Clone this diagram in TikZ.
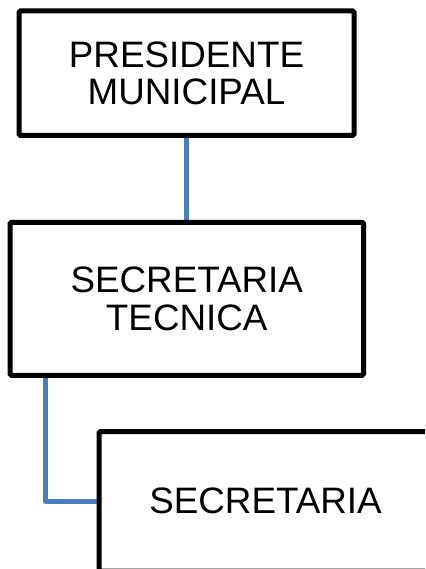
\documentclass[tikz,border=0pt]{standalone}
\usepackage{fontspec}
\setmainfont{Liberation Sans}
\usetikzlibrary{backgrounds}
\definecolor{connblue}{RGB}{74,126,187}
\begin{document}
\begin{tikzpicture}[x=1pt,y=-1pt,
  orgbox/.style={draw=black, line width=5pt, fill=white, rounded corners=1.5pt,
    align=center, inner sep=0pt, font=\fontsize{36.8}{37.5}\selectfont},
  conn/.style={draw=connblue, line width=5pt, line join=round}]
\useasboundingbox (0,0) rectangle (425,569);
\begin{scope}
\clip (0,0) rectangle (425,569);
\node[orgbox, minimum width=335pt, minimum height=124.5pt] (b1) at (186.5,73.25) {PRESIDENTE\\MUNICIPAL};
\node[orgbox, minimum width=353.5pt, minimum height=153pt] (b2) at (186.75,298.75) {SECRETARIA\\TECNICA};
\node[orgbox, minimum width=333pt, minimum height=139.5pt] (b3) at (265.5,501.25) {SECRETARIA};
\coordinate (c2) at (45.5,375);
\begin{pgfonlayer}{background}
\fill[white] (0,0) rectangle (425,569);
\draw[conn] (b1.south) -- (b1.south |- b2.north);
\draw[conn] (c2) |- (b3.west);
\end{pgfonlayer}
\end{scope}
\end{tikzpicture}
\end{document}
